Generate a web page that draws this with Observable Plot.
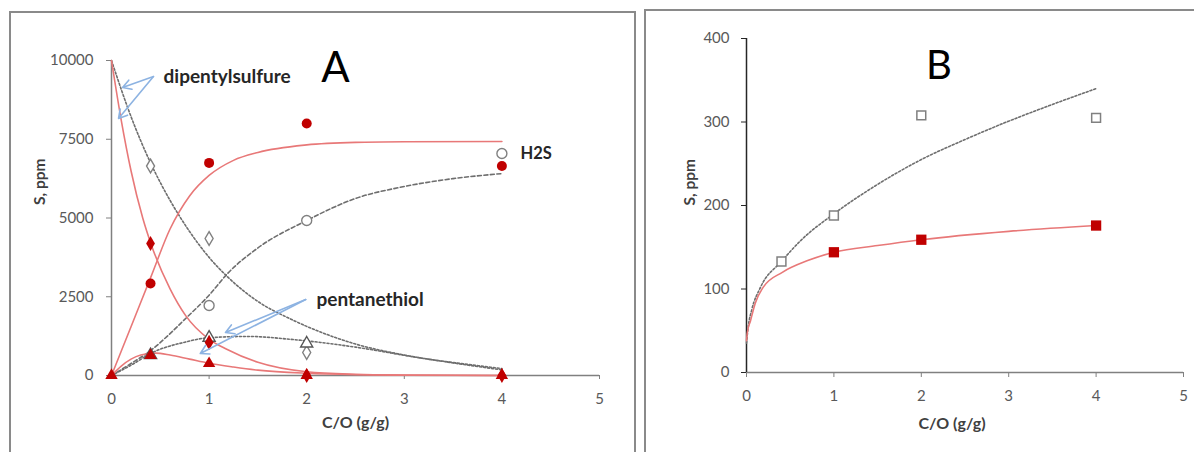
<!DOCTYPE html>
<html>
<head>
<meta charset="utf-8">
<script src="https://cdn.jsdelivr.net/npm/d3@7"></script>
<script src="https://cdn.jsdelivr.net/npm/@observablehq/plot@0.6"></script>
<style>
  html, body { margin: 0; padding: 0; background: #fff; }
  #wrap { position: relative; width: 1194px; height: 452px; overflow: hidden; background: #fff; }
  #wrap svg { position: absolute; top: 0; }
  .box { position: absolute; border: 2px solid #8a8a8a; box-sizing: border-box; pointer-events: none; }
</style>
</head>
<body>
<div id="wrap"></div>
<script>
// ---------- Panel A : measured points ----------
const aH2sRedX = [0.4, 1, 2, 4];
const aH2sRedY = [2920, 6750, 8000, 6650];
const aDipRedX = [0.4, 1, 2, 4];
const aDipRedY = [4190, 1050, 0, 0];
const aThiolRedX = [0, 0.4, 1, 2, 4];
const aThiolRedY = [0, 635, 380, 0, 0];
const aH2sGreyX = [1, 2, 4];
const aH2sGreyY = [2220, 4920, 7050];
const aDipGreyX = [0.4, 1, 2];
const aDipGreyY = [6650, 4350, 730];
const aThiolGreyX = [0.4, 1, 2];
const aThiolGreyY = [650, 1200, 1016];

// ---------- Panel A : fitted curves ----------
const cH2sRedX = [0, 0.2, 0.4, 0.6, 0.8, 1, 1.25, 1.5, 2, 2.5, 3, 4];
const cH2sRedY = [0, 1550, 3100, 4650, 5700, 6350, 6830, 7080, 7320, 7400, 7420, 7430];
const cDipRedX = [0, 0.1, 0.2, 0.32, 0.41, 0.6, 0.76, 1, 1.17, 1.5, 2, 2.5, 3, 4];
const cDipRedY = [10000, 8100, 6500, 5000, 4130, 2750, 1900, 1150, 850, 420, 120, 40, 15, 0];
const cThiolRedX = [0, 0.1, 0.2, 0.3, 0.45, 0.6, 0.8, 1, 1.25, 1.5, 2, 2.5, 3, 4];
const cThiolRedY = [0, 300, 520, 650, 710, 650, 520, 390, 270, 170, 70, 25, 10, 0];
const cDipGreyX = [0, 0.2, 0.4, 0.6, 0.8, 1, 1.2, 1.5, 1.83, 2, 2.5, 3, 3.5, 4];
const cDipGreyY = [10000, 8220, 6750, 5560, 4570, 3750, 3100, 2350, 1800, 1560, 1000, 650, 400, 180];
const cH2sGreyX = [0, 0.2, 0.4, 0.6, 0.74, 1, 1.19, 1.5, 2, 2.5, 3, 3.5, 4];
const cH2sGreyY = [0, 380, 790, 1330, 1750, 2550, 3240, 4050, 4920, 5620, 6000, 6250, 6410];
const cThiolGreyX = [0, 0.23, 0.4, 0.74, 1, 1.4, 1.83, 2.14, 2.5, 3.2, 4];
const cThiolGreyY = [0, 380, 700, 1050, 1200, 1240, 1150, 1050, 900, 540, 220];

// ---------- Panel A : annotations ----------
const aLabels = ["dipentylsulfure", "H2S", "pentanethiol"];
const aLabelX = [0.533, 4.19, 2.10];
const aLabelY = [9492, 7048, 2413];
const aArrowX1 = [0.43, 0.43, 1.99, 1.99];
const aArrowY1 = [9492, 9492, 2413, 2413];
const aArrowX2 = [0.113, 0.072, 1.168, 0.91];
const aArrowY2 = [9143, 8159, 1365, 698];
const aYTicks = [0, 2500, 5000, 7500, 10000];
const xTicks = [0, 1, 2, 3, 4, 5];

// ---------- Panel B ----------
const bGreyX = [0.4, 1, 2, 4];
const bGreyY = [133, 188, 308, 305];
const bRedX = [1, 2, 4];
const bRedY = [144, 159, 176];
const cBRedX = [0, 0.01, 0.046, 0.1, 0.19, 0.41, 0.7, 1, 1.5, 2, 3, 4];
const cBRedY = [38, 48, 62, 83, 102, 120, 134, 144, 152, 159, 169, 176];
const cBGreyX = [0, 0.02, 0.06, 0.16, 0.4, 0.62, 1, 1.45, 2, 2.5, 3, 3.5, 4];
const cBGreyY = [35, 55, 75, 102, 133, 158, 190, 222, 255, 279, 301, 321, 340];
const bYTicks = [0, 100, 200, 300, 400];

const RED = "#c00000";
const REDLINE = "#e87878";
const GREY = "#808080";
const FONT = "Lato, 'Open Sans', sans-serif";

const pts = (X, Y) => X.map((x, i) => ({x, y: Y[i]}));

const plotA = Plot.plot({
  width: 640, height: 452,
  marginLeft: 111, marginRight: 41, marginTop: 60, marginBottom: 77,
  style: {fontFamily: FONT, fontSize: "15px", background: "transparent", overflow: "visible"},
  x: {domain: [0, 5]},
  y: {domain: [0, 10000]},
  marks: [
    Plot.ruleX([0], {y1: 0, y2: 10000, stroke: GREY, strokeWidth: 1.5}),
    Plot.ruleY([0], {x1: 0, x2: 5, stroke: GREY, strokeWidth: 1.5}),
    Plot.axisY({ticks: aYTicks, tickFormat: d => String(d), tickSize: 5, tickPadding: 13, stroke: GREY, fill: "#595959", fontSize: 15, label: null}),
    Plot.axisX({ticks: xTicks, tickFormat: d => String(d), tickSize: 4, tickPadding: 14, stroke: GREY, fill: "#595959", fontSize: 15, label: null}),
    Plot.line(pts(cDipGreyX, cDipGreyY), {x: "x", y: "y", curve: "monotone-x", stroke: "#6e6e6e", strokeWidth: 1.6, strokeDasharray: "2,2"}),
    Plot.line(pts(cH2sGreyX, cH2sGreyY), {x: "x", y: "y", curve: "monotone-x", stroke: "#6e6e6e", strokeWidth: 1.6, strokeDasharray: "4,2.5"}),
    Plot.line(pts(cThiolGreyX, cThiolGreyY), {x: "x", y: "y", curve: "monotone-x", stroke: "#6e6e6e", strokeWidth: 1.6, strokeDasharray: "2,2"}),
    Plot.line(pts(cH2sRedX, cH2sRedY), {x: "x", y: "y", curve: "monotone-x", stroke: REDLINE, strokeWidth: 1.6}),
    Plot.line(pts(cDipRedX, cDipRedY), {x: "x", y: "y", curve: "monotone-x", stroke: REDLINE, strokeWidth: 1.6}),
    Plot.line(pts(cThiolRedX, cThiolRedY), {x: "x", y: "y", curve: "monotone-x", stroke: REDLINE, strokeWidth: 1.6}),
    Plot.dot(pts(aH2sGreyX, aH2sGreyY), {x: "x", y: "y", symbol: "circle", r: 5, fill: "white", stroke: GREY, strokeWidth: 1.4}),
    Plot.dot(pts(aDipGreyX, aDipGreyY), {x: "x", y: "y", symbol: "diamond", r: 4.2, fill: "white", stroke: GREY, strokeWidth: 1.4}),
    Plot.dot(pts(aThiolGreyX, aThiolGreyY), {x: "x", y: "y", symbol: "triangle", r: 4.5, fill: "white", stroke: "#555", strokeWidth: 1.4}),
    Plot.dot(pts(aH2sRedX, aH2sRedY), {x: "x", y: "y", symbol: "circle", r: 5, fill: RED}),
    Plot.dot(pts(aDipRedX, aDipRedY), {x: "x", y: "y", symbol: "diamond", r: 4.6, fill: RED}),
    Plot.dot(pts(aThiolRedX, aThiolRedY), {x: "x", y: "y", symbol: "triangle", r: 4.6, fill: RED}),
    Plot.arrow(aArrowX1.map((x, i) => ({x1: x, y1: aArrowY1[i], x2: aArrowX2[i], y2: aArrowY2[i]})),
      {x1: "x1", y1: "y1", x2: "x2", y2: "y2", stroke: "#8db3e2", strokeWidth: 1.6, headLength: 9}),
    Plot.text(aLabels.map((t, i) => ({t, x: aLabelX[i], y: aLabelY[i], s: t === "H2S" ? 16.5 : 19})),
      {x: "x", y: "y", text: "t", textAnchor: "start", fontSize: d => d.s, fontWeight: "bold", fill: "#262626"}),
    Plot.text(["A"], {frameAnchor: "top", dx: -20, dy: -8, fontSize: 42, fill: "#000", fontFamily: FONT}),
    Plot.text(["S, ppm"], {frameAnchor: "left", rotate: -90, dx: -71, dy: -13, fontSize: 15.5, fontWeight: "bold", fill: "#404040"}),
    Plot.text(["C/O (g/g)"], {frameAnchor: "bottom", dy: 52, fontSize: 16, fontWeight: "bold", fill: "#404040"})
  ]
});
plotA.style.left = "0px";

const plotB = Plot.plot({
  width: 554, height: 452,
  marginLeft: 106, marginRight: 11, marginTop: 38, marginBottom: 80,
  style: {fontFamily: FONT, fontSize: "15px", background: "transparent", overflow: "visible"},
  x: {domain: [0, 5]},
  y: {domain: [0, 400]},
  marks: [
    Plot.ruleY([0], {x1: 0, x2: 5, stroke: GREY, strokeWidth: 1.5}),
    Plot.ruleX([0], {y1: 0, y2: 400, stroke: "#262626", strokeWidth: 1.5}),
    Plot.axisY({ticks: bYTicks, tickFormat: d => String(d), tickSize: 5, tickPadding: 12, stroke: "#262626", fill: "#595959", fontSize: 15, label: null}),
    Plot.axisX({ticks: xTicks, tickFormat: d => String(d), tickSize: 5, tickPadding: 13, stroke: GREY, fill: "#595959", fontSize: 15, label: null}),
    Plot.line(pts(cBGreyX, cBGreyY), {x: "x", y: "y", curve: "monotone-x", stroke: "#6e6e6e", strokeWidth: 1.6, strokeDasharray: "2,2"}),
    Plot.line(pts(cBRedX, cBRedY), {x: "x", y: "y", curve: "monotone-x", stroke: REDLINE, strokeWidth: 1.6}),
    Plot.dot(pts(bGreyX, bGreyY), {x: "x", y: "y", symbol: "square", r: 5, fill: "white", stroke: GREY, strokeWidth: 1.5}),
    Plot.dot(pts(bRedX, bRedY), {x: "x", y: "y", symbol: "square", r: 5.8, fill: RED}),
    Plot.text(["B"], {frameAnchor: "top", dx: -26, dy: 12, fontSize: 40, fill: "#000"}),
    Plot.text(["S, ppm"], {frameAnchor: "left", rotate: -90, dx: -56, fontSize: 15.5, fontWeight: "bold", fill: "#404040"}),
    Plot.text(["C/O (g/g)"], {frameAnchor: "bottom", dx: -13, dy: 56, fontSize: 16, fontWeight: "bold", fill: "#404040"})
  ]
});
plotB.style.left = "640px";

const wrap = document.getElementById("wrap");
wrap.appendChild(plotA);
wrap.appendChild(plotB);
const boxA = document.createElement("div");
boxA.className = "box";
Object.assign(boxA.style, {left: "9px", top: "11px", width: "627px", height: "470px"});
const boxB = document.createElement("div");
boxB.className = "box";
Object.assign(boxB.style, {left: "644px", top: "9px", width: "600px", height: "470px"});
wrap.appendChild(boxA);
wrap.appendChild(boxB);
</script>
</body>
</html>
